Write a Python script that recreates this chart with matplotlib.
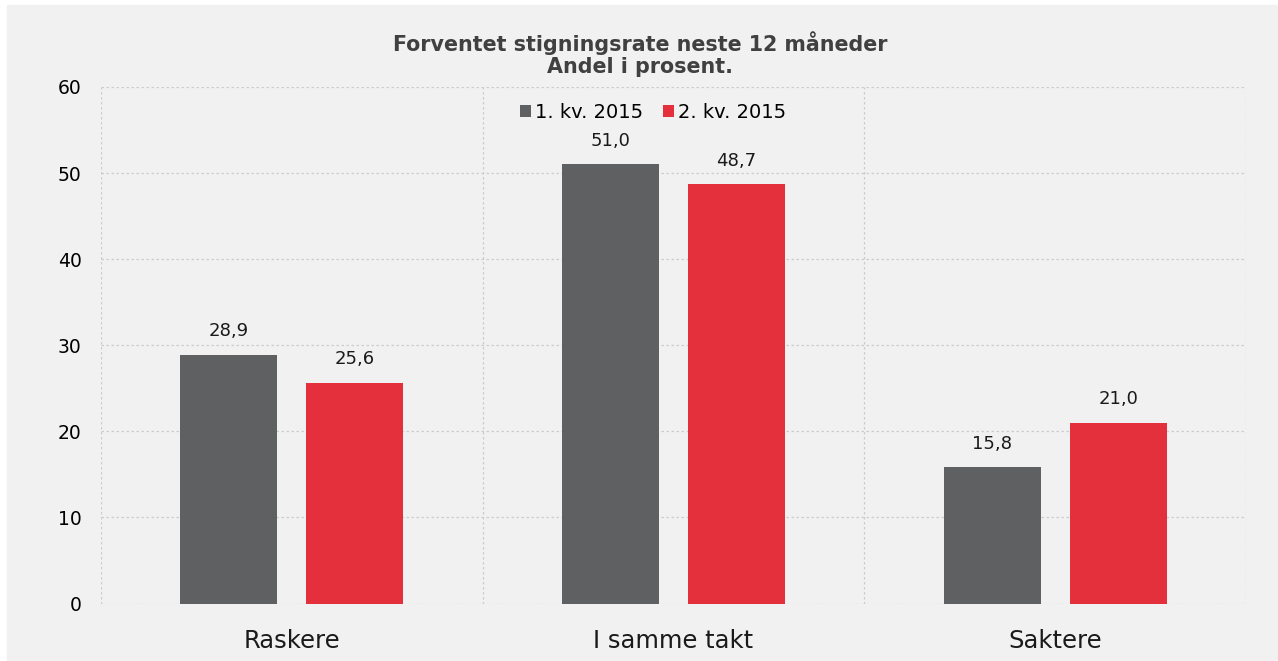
import numpy as np
import matplotlib.pyplot as plt
from matplotlib.patches import Rectangle

plt.rcParams["font.family"] = ["DejaVu Sans"]

categories = ["Raskere", "I samme takt", "Saktere"]
series_names = ["1. kv. 2015", "2. kv. 2015"]
q1_values = [28.9, 51.0, 15.8]
q2_values = [25.6, 48.7, 21.0]
colors = ["#5f6062", "#e3303c"]

fig = plt.figure(figsize=(12.78, 6.61), dpi=100, facecolor="white")
fig.patches.append(Rectangle((7 / 1278, 0), 1 - 7 / 1278, 1 - 5 / 661,
                             transform=fig.transFigure, color="#f1f1f1", zorder=-5))

ax = fig.add_axes([101 / 1278, 1 - 603.5 / 661, (1246 - 101) / 1278, (603.5 - 87) / 661])
ax.set_facecolor("#f1f1f1")

x = np.arange(len(categories))
width = 0.254
offset = 0.165
for vals, name, col, sign in [(q1_values, series_names[0], colors[0], -1),
                              (q2_values, series_names[1], colors[1], 1)]:
    bars = ax.bar(x + sign * offset, vals, width, color=col, label=name, zorder=3)
    for b, v in zip(bars, vals):
        ax.text(b.get_x() + b.get_width() / 2, v + 1.7, f"{v:.1f}".replace(".", ","),
                ha="center", va="bottom", fontsize=13, color="#1a1a1a")

ax.set_xlim(-0.5, 2.5)
ax.set_ylim(0, 60)
ax.set_yticks(range(0, 61, 10))
ax.set_xticks(x)
ax.set_xticklabels(categories, fontsize=17.5)
ax.tick_params(axis="y", labelsize=13.5, length=0, pad=14)
ax.tick_params(axis="x", length=0, pad=18, colors="#1a1a1a")

ax.grid(axis="y", color="#cccccc", linestyle=(0, (2, 2)), linewidth=0.9, zorder=1)
for b in [-0.5, 0.5, 1.5, 2.5]:
    ax.axvline(b, color="#cccccc", linestyle=(0, (2, 2)), linewidth=0.9, zorder=1)
for s in ax.spines.values():
    s.set_visible(False)

ax.legend(loc="upper center", bbox_to_anchor=((653 - 101) / (1246 - 101), 1.0), ncol=2,
          frameon=False, fontsize=14, handlelength=0.6, handleheight=0.6,
          handletextpad=0.2, columnspacing=1.0, borderaxespad=0.4)

fig.text(640 / 1278, 1 - 54 / 661, "Forventet stigningsrate neste 12 måneder\nAndel i prosent.",
         ha="center", va="center", fontsize=14.9, fontweight="bold", color="#404040",
         linespacing=1.15)

fig.savefig("out.png", dpi=100, facecolor=fig.get_facecolor())
